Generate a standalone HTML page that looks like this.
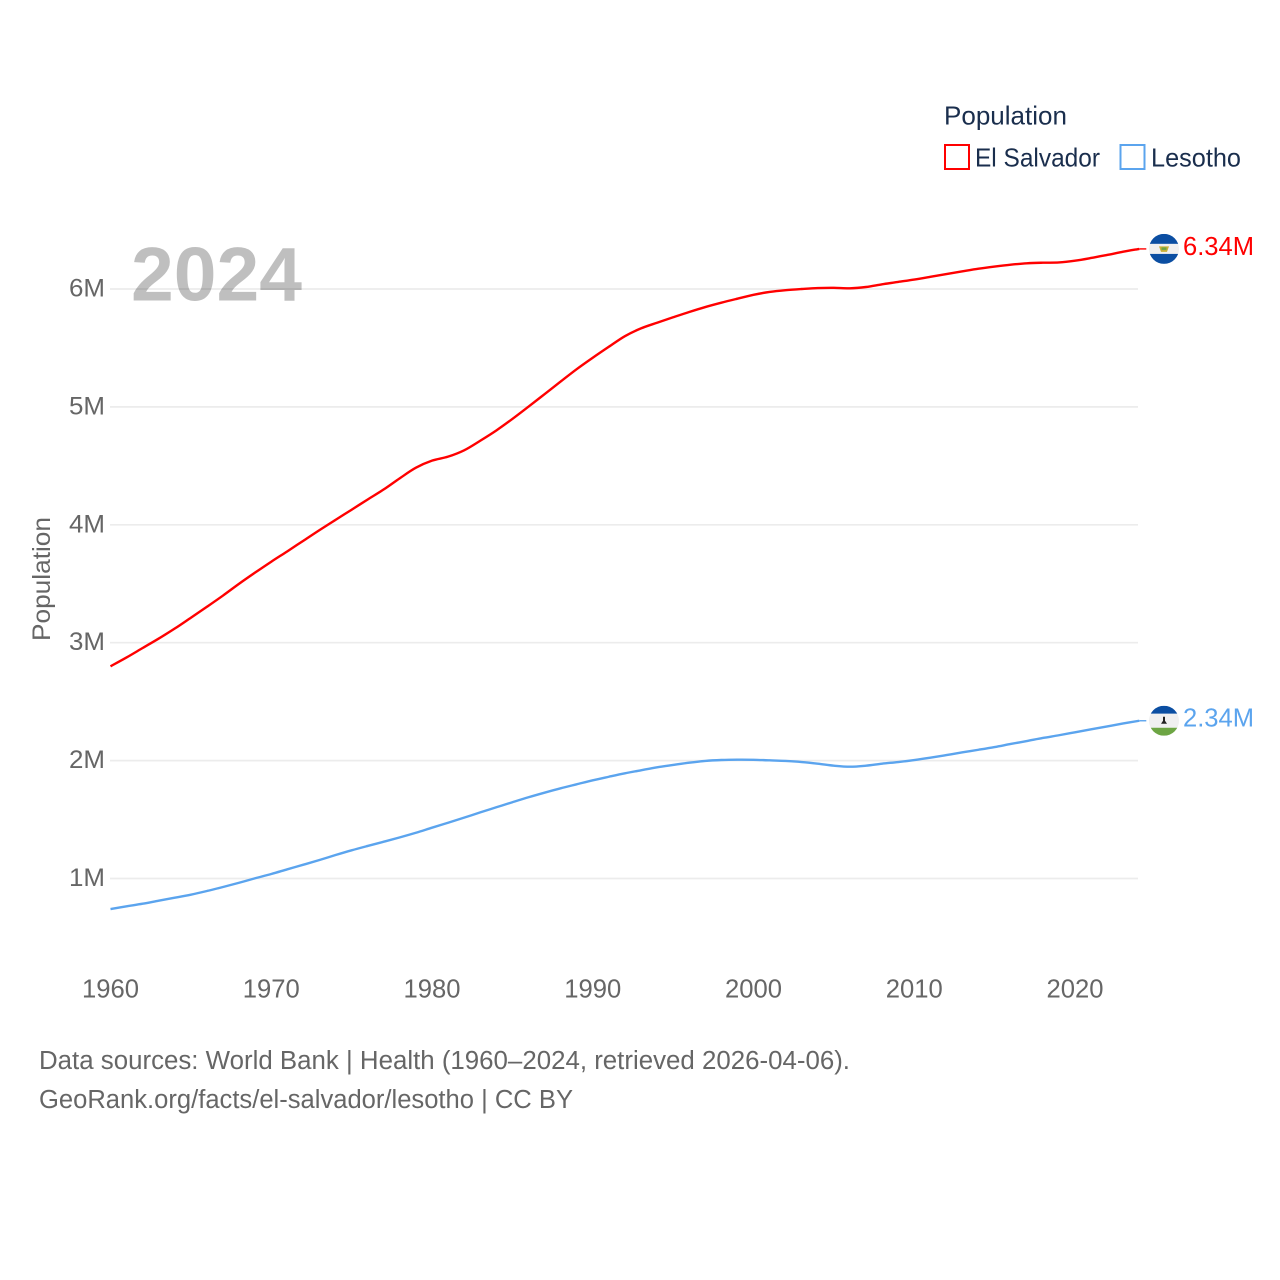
<!DOCTYPE html>
<html lang="en">
<head>
<meta charset="utf-8">
<title>El Salvador and Lesotho population</title>
<style>
html,body{margin:0;padding:0;background:#fff;width:1280px;height:1280px;overflow:hidden}
svg{display:block}
text{font-family:"Liberation Sans",sans-serif}
</style>
</head>
<body>
<svg id="chart" xmlns="http://www.w3.org/2000/svg" width="1280" height="1280" viewBox="0 0 1280 1280">
  <defs>
    <clipPath id="flag-clip-a"><circle cx="0" cy="0" r="15"></circle></clipPath>
  </defs>
  <rect x="0" y="0" width="1280" height="1280" fill="#fff"></rect>
  <g id="grid"></g>
  <g id="y-ticks"></g>
  <g id="x-ticks"></g>
  <text transform="translate(50,641) rotate(-90)" font-size="25" fill="#666" textLength="124" lengthAdjust="spacingAndGlyphs">Population</text>
  <text x="131" y="300.5" font-size="76" font-weight="700" fill="#000" fill-opacity="0.25" textLength="171" lengthAdjust="spacingAndGlyphs">2024</text>
  <g id="series"></g>
  <g id="ends"></g>

  <g>
    <text x="944" y="124.5" font-size="26" fill="#1a2e4d" textLength="123" lengthAdjust="spacingAndGlyphs">Population</text>
    <rect x="945" y="145" width="24" height="24" fill="#fff" stroke="#ff0000" stroke-width="2"></rect>
    <text x="975" y="166.5" font-size="26" fill="#1a2e4d" textLength="125" lengthAdjust="spacingAndGlyphs">El Salvador</text>
    <rect x="1120.5" y="145" width="24" height="24" fill="#fff" stroke="#5ba4ee" stroke-width="2"></rect>
    <text x="1151" y="166.5" font-size="26" fill="#1a2e4d" textLength="90" lengthAdjust="spacingAndGlyphs">Lesotho</text>
  </g>

  <text x="39" y="1069" font-size="25.5" fill="#666" textLength="811" lengthAdjust="spacingAndGlyphs">Data sources: World Bank | Health (1960–2024, retrieved 2026-04-06).</text>
  <text x="39" y="1108" font-size="25.5" fill="#666" textLength="534" lengthAdjust="spacingAndGlyphs">GeoRank.org/facts/el-salvador/lesotho | CC BY</text>
</svg>
<script>
const startYear = 1960;
const yTicks = [1, 2, 3, 4, 5, 6];
const xTicks = [1960, 1970, 1980, 1990, 2000, 2010, 2020];
const elSalvador = [
  2.800, 2.875, 2.955, 3.035, 3.120, 3.212, 3.305, 3.400, 3.500, 3.595,
  3.687, 3.775, 3.865, 3.955, 4.042, 4.128, 4.215, 4.300, 4.395, 4.484,
  4.544, 4.578, 4.632, 4.713, 4.800, 4.898, 5.002, 5.108, 5.215, 5.320,
  5.417, 5.510, 5.600, 5.666, 5.714, 5.760, 5.805, 5.847, 5.884, 5.918,
  5.951, 5.975, 5.990, 6.000, 6.008, 6.010, 6.006, 6.017, 6.040, 6.060,
  6.080, 6.103, 6.127, 6.150, 6.172, 6.190, 6.206, 6.218, 6.223, 6.225,
  6.240, 6.263, 6.289, 6.316, 6.340
];
const lesotho = [
  0.741, 0.764, 0.786, 0.812, 0.837, 0.863, 0.894, 0.928, 0.964, 1.002,
  1.038, 1.078, 1.117, 1.157, 1.199, 1.239, 1.276, 1.312, 1.349, 1.388,
  1.431, 1.473, 1.516, 1.561, 1.604, 1.647, 1.689, 1.728, 1.765, 1.799,
  1.833, 1.863, 1.892, 1.918, 1.943, 1.963, 1.982, 1.997, 2.005, 2.008,
  2.007, 2.002, 1.997, 1.988, 1.974, 1.957, 1.948, 1.957, 1.974, 1.988,
  2.005, 2.025, 2.047, 2.070, 2.092, 2.115, 2.141, 2.166, 2.192, 2.215,
  2.240, 2.265, 2.290, 2.315, 2.338
];

const NS = 'http://www.w3.org/2000/svg';
const xScale = year => 110.5 + (year - 1960) * 16.075;
const yScale = millions => 878.5 - (millions - 1) * 117.9;

function make(parent, tag, attrs, content) {
  const el = document.createElementNS(NS, tag);
  for (const key in attrs) el.setAttribute(key, attrs[key]);
  if (content !== undefined) el.textContent = content;
  parent.appendChild(el);
  return el;
}

const gridGroup = document.getElementById('grid');
const yTickGroup = document.getElementById('y-ticks');
yTicks.forEach(v => {
  const line = make(gridGroup, 'line', {x1: 110, x2: 1138, y1: yScale(v), y2: yScale(v), stroke: '#ececec', 'stroke-width': 1.7});
  
  
  const label = make(yTickGroup, 'text', {x: 105, y: yScale(v) + 7.5, 'text-anchor': 'end', 'font-size': 25, fill: '#666', textLength: 36, lengthAdjust: 'spacingAndGlyphs'}, v + 'M');
  
  
});

const xTickGroup = document.getElementById('x-ticks');
xTicks.forEach(year => {
  const label = make(xTickGroup, 'text', {x: xScale(year), y: 997.5, 'text-anchor': 'middle', 'font-size': 25.5, fill: '#666', textLength: 57, lengthAdjust: 'spacingAndGlyphs'}, String(year));
  
  
});

function buildPath(values) {
  const pts = values.map((v, i) => [xScale(startYear + i), yScale(v)]);
  let d = 'M' + pts[0][0].toFixed(2) + ',' + pts[0][1].toFixed(2);
  for (let i = 0; i < pts.length - 1; i++) {
    const p0 = pts[Math.max(0, i - 1)];
    const p1 = pts[i];
    const p2 = pts[i + 1];
    const p3 = pts[Math.min(pts.length - 1, i + 2)];
    const c1x = p1[0] + (p2[0] - p0[0]) / 6;
    const c1y = p1[1] + (p2[1] - p0[1]) / 6;
    const c2x = p2[0] - (p3[0] - p1[0]) / 6;
    const c2y = p2[1] - (p3[1] - p1[1]) / 6;
    d += 'C' + c1x.toFixed(2) + ',' + c1y.toFixed(2) + ' ' + c2x.toFixed(2) + ',' + c2y.toFixed(2) + ' ' + p2[0].toFixed(2) + ',' + p2[1].toFixed(2);
  }
  return d;
}

const seriesGroup = document.getElementById('series');
const endsGroup = document.getElementById('ends');

function drawSeries(slug, values, color, stripes) {
  const path = make(seriesGroup, 'path', {d: buildPath(values), fill: 'none', stroke: color, 'stroke-width': 2.4, 'stroke-linejoin': 'round'});
  
  

  const last = values[values.length - 1];
  const lastX = xScale(startYear + values.length - 1);
  const lastY = yScale(last);

  const connector = make(endsGroup, 'line', {x1: lastX, x2: lastX + 7, y1: lastY, y2: lastY, stroke: color, 'stroke-width': 1.4});
  
  

  const flag = make(endsGroup, 'g', {transform: 'translate(1164,' + lastY.toFixed(2) + ')', 'clip-path': 'url(#flag-clip-a)'});
  
  
  stripes(flag);

  const label = make(endsGroup, 'text', {x: 1183, y: lastY + 6, 'font-size': 25.5, fill: color, textLength: 71, lengthAdjust: 'spacingAndGlyphs'}, last.toFixed(2) + 'M');
  
  
}

drawSeries('el-salvador', elSalvador, '#ff0000', g => {
  make(g, 'rect', {x: -15, y: -15, width: 30, height: 10, fill: '#0b4ea2'});
  make(g, 'rect', {x: -15, y: -5, width: 30, height: 10, fill: '#f0f0f0'});
  make(g, 'rect', {x: -15, y: 5, width: 30, height: 10, fill: '#0b4ea2'});
  make(g, 'path', {d: 'M-5,-2.5 L5,-2.5 L3,3 L-3,3 Z', fill: '#c9b037'});
  make(g, 'rect', {x: -2.5, y: -1.5, width: 5, height: 2.5, fill: '#6da544'});
});

drawSeries('lesotho', lesotho, '#5ba4ee', g => {
  make(g, 'rect', {x: -15, y: -15, width: 30, height: 8, fill: '#0b4ea2'});
  make(g, 'rect', {x: -15, y: -7, width: 30, height: 14, fill: '#f0f0f0'});
  make(g, 'rect', {x: -15, y: 7, width: 30, height: 8, fill: '#6da544'});
  make(g, 'path', {d: 'M-1,-4 L1,-4 L1,0 L3,3 L-3,3 L-1,0 Z', fill: '#222'});
});
</script>
</body>
</html>
